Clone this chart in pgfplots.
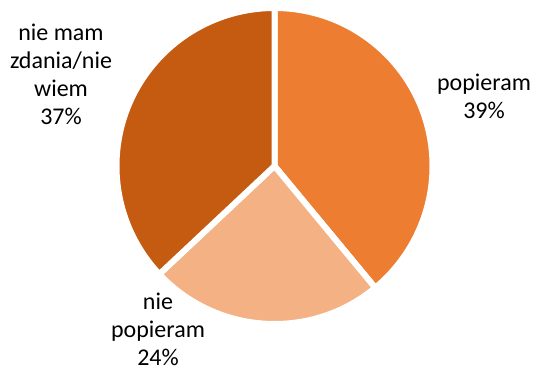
\documentclass[border=0pt]{standalone}
\usepackage{pgfplots}
\pgfplotsset{compat=1.18}
\usepackage{pgfplotstable}
\usepackage{fontspec}
\setmainfont{Carlito}
\definecolor{cA}{HTML}{ED7D31}
\definecolor{cB}{HTML}{F4B183}
\definecolor{cC}{HTML}{C55A11}
\pgfplotstableread{
value
39
24
37
}\piedata
\begin{document}
\begin{tikzpicture}
\pgfplotstablegetelem{0}{value}\of\piedata \let\va\pgfplotsretval
\pgfplotstablegetelem{1}{value}\of\piedata \let\vb\pgfplotsretval
\pgfplotstablegetelem{2}{value}\of\piedata \let\vc\pgfplotsretval
\pgfmathsetmacro{\aA}{90}
\pgfmathsetmacro{\aB}{90-3.6*\va}
\pgfmathsetmacro{\aC}{\aB-3.6*\vb}
\pgfmathsetmacro{\aD}{\aC-3.6*\vc}
\begin{axis}[width=533pt,height=370pt,scale only axis,
  xmin=0,xmax=533,ymin=0,ymax=370,axis lines=none,clip=false]
\filldraw[fill=cA,draw=white,line width=6pt,line join=round]
  (axis cs:274.5,204) -- ++(\aA:158pt) arc[start angle=\aA,end angle=\aB,radius=158pt] -- cycle;
\filldraw[fill=cB,draw=white,line width=6pt,line join=round]
  (axis cs:274.5,204) -- ++(\aB:158pt) arc[start angle=\aB,end angle=\aC,radius=158pt] -- cycle;
\filldraw[fill=cC,draw=white,line width=6pt,line join=round]
  (axis cs:274.5,204) -- ++(\aC:158pt) arc[start angle=\aC,end angle=\aD,radius=158pt] -- cycle;
\node[align=center,inner sep=0,font=\fontsize{24}{28}\selectfont] at (axis cs:484,274) {popieram\\39\%};
\node[align=center,inner sep=0,font=\fontsize{24}{28}\selectfont] at (axis cs:61,296) {nie mam\\zdania/nie\\wiem\\37\%};
\node[align=center,inner sep=0,font=\fontsize{24}{28}\selectfont] at (axis cs:158,41) {nie\\popieram\\24\%};
\end{axis}
\pgfresetboundingbox
\path (current axis.south west) rectangle (current axis.north east);
\end{tikzpicture}
\end{document}
